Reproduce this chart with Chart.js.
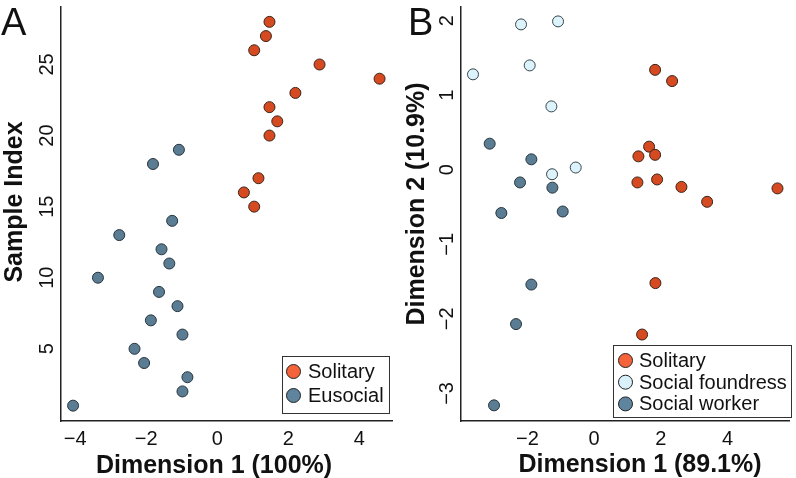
<!DOCTYPE html>
<html>
<head>
<meta charset="utf-8">
<script src="https://cdn.jsdelivr.net/npm/chart.js@4.4.1/dist/chart.umd.min.js"></script>
<style>
  html, body { margin: 0; padding: 0; background: #fff; }
  #wrapA { position: absolute; left: 0; top: 0; width: 400px; height: 478px; }
  #wrapB { position: absolute; left: 400px; top: 0; width: 396px; height: 478px; }
</style>
</head>
<body>
<div id="wrapA"><canvas id="chartA"></canvas></div>
<div id="wrapB"><canvas id="chartB"></canvas></div>
<script>
// ---- panel A: sample index vs dimension 1 ----
const soloA_idx = [15, 16, 17, 20, 21, 22, 23, 24, 25, 26, 27, 28];
const soloA_x   = [1.04, 0.75, 1.16, 1.47, 1.69, 1.47, 2.20, 4.57, 2.88, 1.04, 1.37, 1.47];
const euA_idx   = [1, 2, 3, 4, 5, 6, 7, 8, 9, 10, 11, 12, 13, 14, 18, 19];
const euA_x     = [-4.06, -0.98, -0.84, -2.06, -2.33, -0.98, -1.87, -1.12, -1.64, -3.36, -1.35, -1.57, -2.76, -1.27, -1.81, -1.08];
const xTicksA = [-4, -2, 0, 2, 4];
const yTicksA = [5, 10, 15, 20, 25];

// ---- panel B: dimension 2 vs dimension 1 ----
const soloB_x = [1.83, 2.34, 1.65, 1.33, 1.83, 1.30, 1.89, 2.62, 3.39, 5.50, 1.84, 1.44];
const soloB_y = [1.34, 1.19, 0.31, 0.18, 0.20, -0.17, -0.13, -0.23, -0.43, -0.25, -1.52, -2.21];
const foundB_x = [-2.19, -1.08, -1.93, -3.63, -1.28, -0.55, -1.26];
const foundB_y = [1.95, 1.99, 1.40, 1.28, 0.85, 0.03, -0.06];
const workB_x = [-3.13, -1.88, -2.22, -1.25, -2.78, -0.94, -1.88, -2.34, -3.00];
const workB_y = [0.35, 0.14, -0.17, -0.24, -0.58, -0.56, -1.54, -2.07, -3.16];
const xTicksB = [-2, 0, 2, 4];
const yTicksB = [-3, -2, -1, 0, 1, 2];

const FONT = "'Liberation Sans', Arial, Helvetica, sans-serif";
const RED = '#D64A21', RED_KEY = '#F4633A';
const BLUE = '#5A7D94', BLUE_KEY = '#5E849E';
const LIGHT = '#DDF3FB', LIGHT_KEY = '#D8F1FA';

function fmt(v) { return String(v).replace('-', '\u2212'); }

function pts(xs, ys) { return xs.map((x, i) => ({x: x, y: ys[i]})); }

function ds(label, data, fill, key, edge) {
  return {
    label: label, data: data,
    backgroundColor: fill, borderColor: edge, borderWidth: 1,
    pointRadius: 5.5, pointHoverRadius: 5.5,
    keyColor: key
  };
}

// R-style extras: rotated y tick labels, axis titles, panel letter, boxed legend
const decor = {
  id: 'decor',
  afterDraw(chart, args, o) {
    const ctx = chart.ctx, ca = chart.chartArea, ys = chart.scales.y;
    ctx.save();
    ctx.fillStyle = '#111';

    ctx.font = '20px ' + FONT;
    ctx.textAlign = 'center';
    ctx.textBaseline = 'alphabetic';
    o.yTicks.forEach(v => {
      ctx.save();
      ctx.translate(ca.left - 8.5, ys.getPixelForValue(v));
      ctx.rotate(-Math.PI / 2);
      ctx.fillText(fmt(v), 0, 0);
      ctx.restore();
    });

    ctx.font = 'bold 25px ' + FONT;
    ctx.fillText(o.xTitle, o.xTitleX, o.xTitleY);
    ctx.save();
    ctx.translate(o.yTitleX, o.yTitleY);
    ctx.rotate(-Math.PI / 2);
    ctx.fillText(o.yTitle, 0, 0);
    ctx.restore();

    ctx.font = '38px ' + FONT;
    ctx.textAlign = 'left';
    ctx.fillText(o.letter, o.letterX, 35);

    // legend box
    const L = o.legend;
    ctx.fillStyle = '#fff';
    ctx.fillRect(L.left, L.top, L.width, L.height);
    ctx.strokeStyle = '#333';
    ctx.lineWidth = 1;
    ctx.strokeRect(L.left + 0.5, L.top + 0.5, L.width, L.height);
    ctx.font = '20px ' + FONT;
    ctx.textBaseline = 'middle';
    chart.data.datasets.forEach((d, i) => {
      const cy = L.top + L.first + i * L.step;
      ctx.beginPath();
      ctx.arc(L.left + L.dot, cy, 7, 0, Math.PI * 2);
      ctx.fillStyle = d.keyColor;
      ctx.fill();
      ctx.strokeStyle = '#222';
      ctx.stroke();
      ctx.fillStyle = '#111';
      ctx.fillText(d.label, L.left + L.text, cy + 1);
    });
    ctx.restore();
  }
};

function makeOptions(xr, yr, xTicks, yTicks, pad, deco) {
  return {
    responsive: true,
    maintainAspectRatio: false,
    animation: false,
    devicePixelRatio: 1,
    layout: { padding: pad },
    plugins: { legend: { display: false }, tooltip: { enabled: false }, decor: deco },
    scales: {
      x: {
        type: 'linear', min: xr[0], max: xr[1],
        grid: { display: false, drawTicks: false },
        border: { display: true, color: '#222', width: 1.5 },
        afterBuildTicks: s => { s.ticks = xTicks.map(v => ({value: v})); },
        afterFit: s => { s.height = 57; },
        ticks: {
          padding: 6, color: '#111', maxRotation: 0,
          font: { family: FONT, size: 20 },
          callback: v => fmt(v)
        }
      },
      y: {
        type: 'linear', min: yr[0], max: yr[1],
        grid: { display: false, drawTicks: false },
        border: { display: true, color: '#222', width: 1.5 },
        afterBuildTicks: s => { s.ticks = yTicks.map(v => ({value: v})); },
        afterFit: s => { s.width = 61; },
        ticks: { display: false }
      }
    }
  };
}

new Chart(document.getElementById('chartA'), {
  type: 'scatter',
  data: {
    datasets: [
      ds('Solitary', pts(soloA_x, soloA_idx), RED, RED_KEY, '#3a2418'),
      ds('Eusocial', pts(euA_x, euA_idx), BLUE, BLUE_KEY, '#26343d')
    ]
  },
  options: makeOptions([-4.40, 4.92], [-0.08, 29.08], xTicksA, yTicksA,
    { left: 0, right: 8, top: 2, bottom: 0 },
    {
      letter: 'A', letterX: 1, yTicks: yTicksA,
      xTitle: 'Dimension 1 (100%)', xTitleX: 214, xTitleY: 473,
      yTitle: 'Sample Index', yTitleX: 21.5, yTitleY: 202,
      legend: { left: 282, top: 356, width: 107, height: 57, first: 15.5, step: 24, dot: 11.5, text: 26 }
    })
  ,
  plugins: [decor]
});

new Chart(document.getElementById('chartB'), {
  type: 'scatter',
  data: {
    datasets: [
      ds('Solitary', pts(soloB_x, soloB_y), RED, RED_KEY, '#3a2418'),
      ds('Social foundress', pts(foundB_x, foundB_y), LIGHT, LIGHT_KEY, '#34434a'),
      ds('Social worker', pts(workB_x, workB_y), BLUE, BLUE_KEY, '#26343d')
    ]
  },
  options: makeOptions([-3.99, 5.86], [-3.37, 2.19], xTicksB, yTicksB,
    { left: 0, right: 4, top: 3, bottom: 0 },
    {
      letter: 'B', letterX: 8, yTicks: yTicksB,
      xTitle: 'Dimension 1 (89.1%)', xTitleX: 240, xTitleY: 472,
      yTitle: 'Dimension 2 (10.9%)', yTitleX: 24, yTitleY: 204,
      legend: { left: 213, top: 345, width: 178, height: 72, first: 15.5, step: 21.7, dot: 12.5, text: 26 }
    })
  ,
  plugins: [decor]
});
</script>
</body>
</html>
